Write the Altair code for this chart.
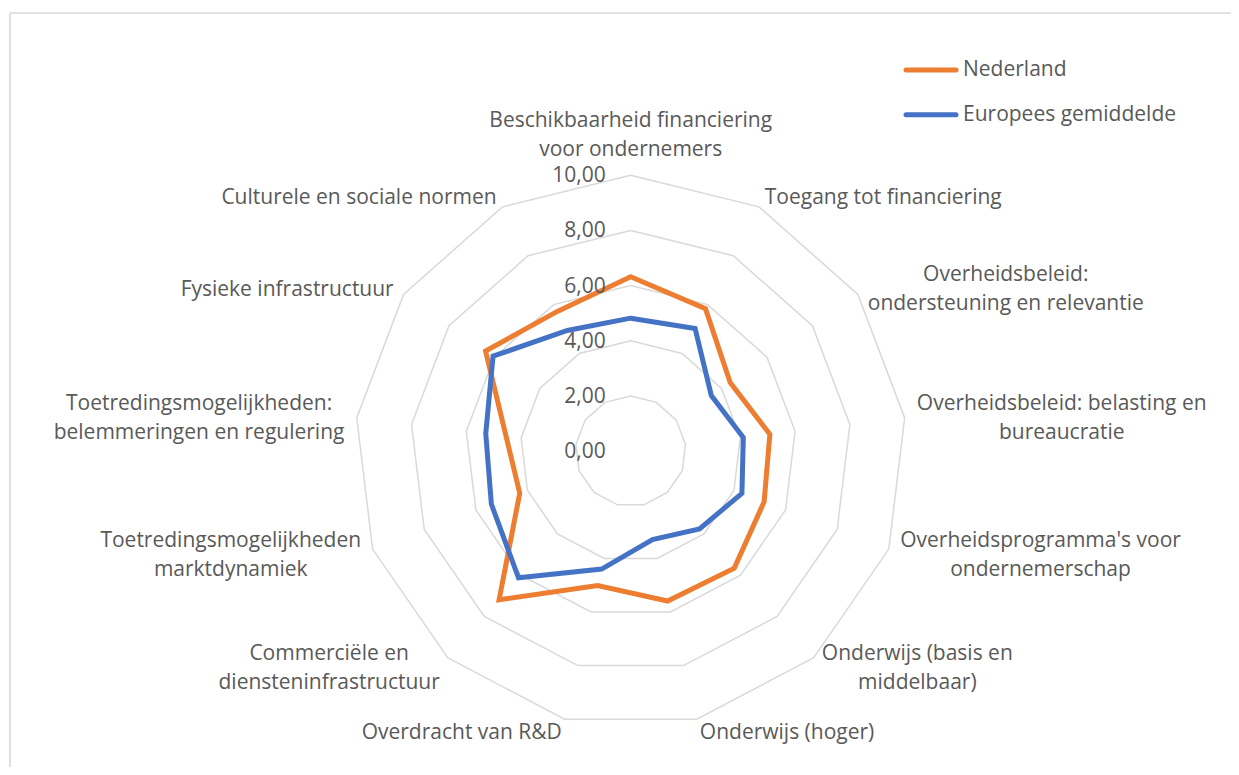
import math
import altair as alt
import pandas as pd

# ---------------- data ----------------
categories = [
    "Beschikbaarheid financiering\nvoor ondernemers",
    "Toegang tot financiering",
    "Overheidsbeleid:\nondersteuning en relevantie",
    "Overheidsbeleid: belasting en\nbureaucratie",
    "Overheidsprogramma's voor\nondernemerschap",
    "Onderwijs (basis en\nmiddelbaar)",
    "Onderwijs (hoger)",
    "Overdracht van R&D",
    "Commerciële en\ndiensteninfrastructuur",
    "Toetredingsmogelijkheden\nmarktdynamiek",
    "Toetredingsmogelijkheden:\nbelemmeringen en regulering",
    "Fysieke infrastructuur",
    "Culturele en sociale normen",
]
nederland = [6.32, 5.83, 4.38, 5.08, 5.17, 5.66, 5.59, 5.01, 7.19, 4.30, 4.55, 6.39, 5.72]
europees = [4.82, 5.02, 3.55, 4.11, 4.31, 3.76, 3.30, 4.40, 6.13, 5.40, 5.29, 6.06, 4.94]
series_names = ["Nederland", "Europees gemiddelde"]
series_colors = ["#ED7D31", "#4472C4"]
grid_levels = [2, 4, 6, 8, 10]
tick_levels = [0, 2, 4, 6, 8, 10]
tick_labels = ["0,00", "2,00", "4,00", "6,00", "8,00", "10,00"]

# ---------------- layout helpers ----------------
N = len(categories)
PX = 27.6            # pixels per unit
W, H = 1223, 759
CX, CY = 622.7, 443.2
FONT = "Open Sans"
FS = 21
LH = 29
TXT = "#595959"
GRID = "#d9d9d9"

xs = alt.Scale(domain=[-CX / PX, (W - CX) / PX], nice=False, zero=False)
ys = alt.Scale(domain=[-(H - CY) / PX, CY / PX], nice=False, zero=False)

CW = {'a': .556, 'b': .613, 'c': .479, 'd': .613, 'e': .561, 'f': .336, 'g': .547, 'h': .614,
      'i': .258, 'j': .258, 'k': .529, 'l': .258, 'm': .933, 'n': .614, 'o': .602, 'p': .613,
      'q': .613, 'r': .408, 's': .477, 't': .352, 'u': .614, 'v': .500, 'w': .778, 'x': .523,
      'y': .500, 'z': .463, ' ': .26, ':': .267, "'": .221, '(': .296, ')': .296, '&': .727,
      'ë': .561, 'B': .633, 'C': .631, 'O': .779, 'T': .556, 'F': .519, 'R': .623, 'D': .721}


def text_w(s):
    return sum(CW.get(c, .6) for c in s) * FS


# series table
srows = []
for name, vals in zip(series_names, [nederland, europees]):
    for k in range(N + 1):
        srows.append({"series": name, "ord": k, "value": vals[k % N]})
sdf = pd.DataFrame(srows)

# grid table
grows = [{"level": lev, "ord": k} for lev in grid_levels for k in range(N + 1)]
gdf = pd.DataFrame(grows)

# category label table
lrows = []
for i, lab in enumerate(categories):
    a = 2 * math.pi * i / N
    s = math.sin(a)
    side = 0 if abs(s) < 0.05 else (1 if s > 0 else -1)
    lines = lab.split("\n")
    n = len(lines)
    hw = max(text_w(l) for l in lines) / 2 / PX
    shift_px = (n - 1) * LH / 2
    if side == 0:
        shift_px += n * LH / 2 - 1
    else:
        shift_px -= 2
    lrows.append({"label": lab, "idx": i, "side": side, "hw": hw, "vshift": shift_px / PX})
ldf = pd.DataFrame(lrows)

tdf = pd.DataFrame({"level": tick_levels, "label": tick_labels})

base_x = alt.X("px:Q", scale=xs, axis=None)
base_y = alt.Y("py:Q", scale=ys, axis=None)

grid = alt.Chart(gdf).transform_calculate(
    a=f"datum.ord*2*PI/{N}",
    px="datum.level*sin(datum.a)",
    py="datum.level*cos(datum.a)",
).mark_line(color=GRID, strokeWidth=1.5).encode(
    x=base_x, y=base_y, detail="level:N", order="ord:Q"
)

series_layers = []
for name, col in zip(series_names, series_colors):
    series_layers.append(
        alt.Chart(sdf).transform_filter(alt.datum.series == name).transform_calculate(
            a=f"datum.ord*2*PI/{N}",
            px="datum.value*sin(datum.a)",
            py="datum.value*cos(datum.a)",
        ).mark_line(color=col, strokeWidth=5, strokeJoin="miter", strokeCap="round").encode(
            x=base_x, y=base_y, order="ord:Q"
        )
    )

ticks = alt.Chart(tdf).transform_calculate(px="0", py="datum.level").mark_text(
    align="right", baseline="middle", dx=-25, dy=1, font=FONT, fontSize=FS, color=TXT
).encode(x=base_x, y=base_y, text="label:N")

R_LAB = 10.43
labels = alt.Chart(ldf).transform_calculate(
    a=f"datum.idx*2*PI/{N}",
    px=f"{R_LAB}*sin(datum.a) + datum.side*datum.hw",
    py=f"{R_LAB}*cos(datum.a) + datum.vshift",
).mark_text(
    align="center", baseline="middle", font=FONT, fontSize=FS, color=TXT,
    lineBreak="\n", lineHeight=LH
).encode(x=base_x, y=base_y, text="label:N")

# legend (custom, top right)
one = pd.DataFrame({"k": [0]})
legend_layers = []
for j, (name, col) in enumerate(zip(series_names, series_colors)):
    yy = 62 + 44.8 * j
    legend_layers.append(
        alt.Chart(one).mark_rule(color=col, strokeWidth=5, strokeCap="round").encode(
            x=alt.value(898), x2=alt.value(948), y=alt.value(yy)
        )
    )
    legend_layers.append(
        alt.Chart(one).mark_text(
            text=name, align="left", baseline="middle", font=FONT, fontSize=FS, color=TXT
        ).encode(x=alt.value(955), y=alt.value(yy))
    )

# chart border (left & top visible)
border = [
    alt.Chart(one).mark_rule(color=GRID, strokeWidth=1.6).encode(
        x=alt.value(2), y=alt.value(5), y2=alt.value(H)
    ),
    alt.Chart(one).mark_rule(color=GRID, strokeWidth=1.6).encode(
        x=alt.value(2), x2=alt.value(W), y=alt.value(5)
    ),
]

chart = alt.layer(
    *border, grid, *series_layers, ticks, labels, *legend_layers
).properties(
    width=W, height=H, padding=0,
    autosize=alt.AutoSizeParams(type="none"),
    background="white",
).configure_view(stroke=None)

chart.save("out.html", embed_options={"renderer": "svg", "actions": False})
